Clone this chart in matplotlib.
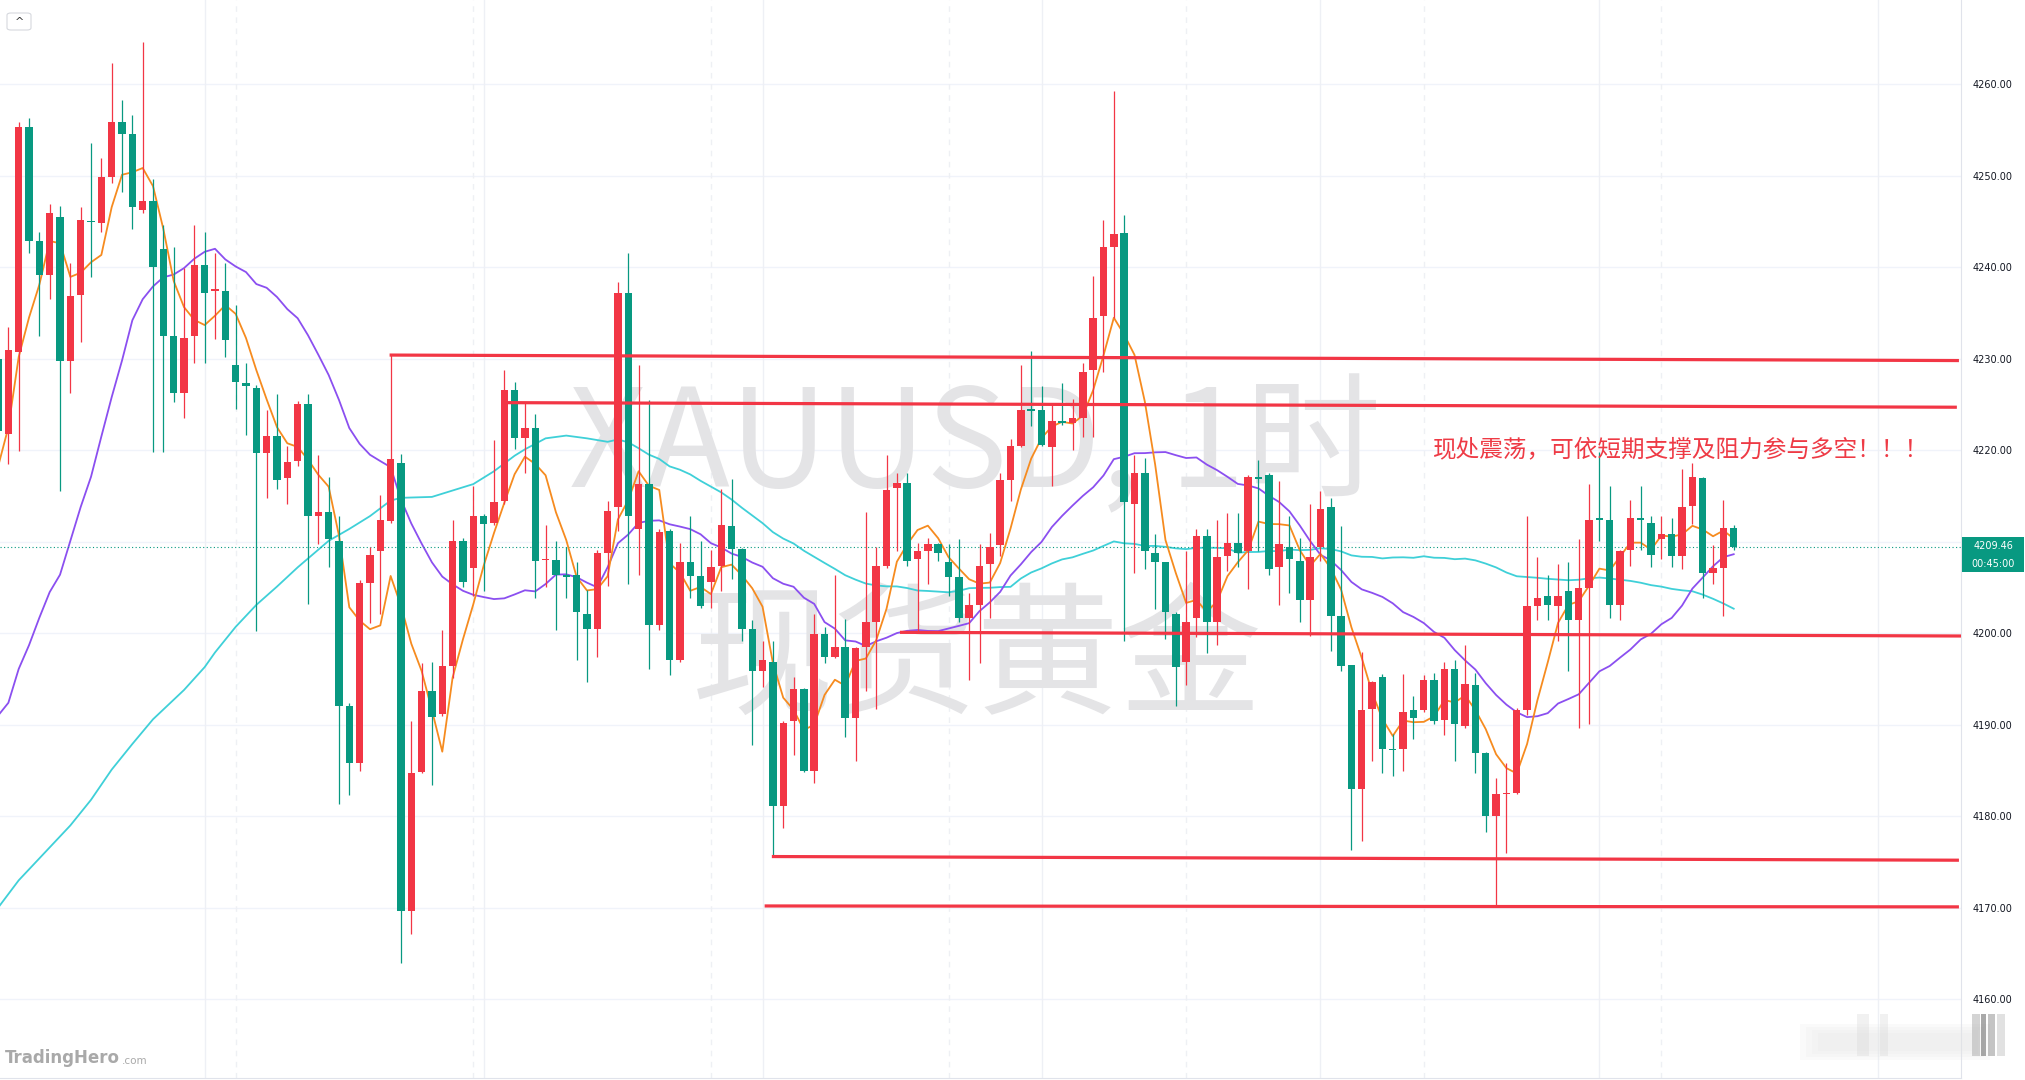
import numpy as np
import pandas as pd
import matplotlib
matplotlib.use("Agg")
import matplotlib.pyplot as plt
from matplotlib.patches import Rectangle, FancyBboxPatch

plt.rcParams['font.family'] = ['Noto Sans CJK SC', 'DejaVu Sans']

# XAUUSD 1h candles
opens = [4230.0, 4221.8, 4230.7, 4255.3, 4242.9, 4239.2, 4245.5, 4229.8, 4237.0, 4245.1,
         4244.8, 4249.9, 4255.9, 4254.6, 4246.2, 4247.2, 4242.0, 4232.5, 4226.3, 4232.5,
         4240.2, 4237.4, 4237.4, 4229.3, 4227.4, 4226.8, 4219.7, 4221.6, 4217.0, 4218.8,
         4225.0, 4212.8, 4213.3, 4210.1, 4192.0, 4185.8, 4205.5, 4209.0, 4212.3, 4218.6,
         4169.6, 4184.8, 4193.7, 4191.2, 4196.4, 4210.1, 4207.1, 4212.8, 4212.1, 4214.5,
         4226.6, 4221.3, 4222.4, 4208.0, 4208.0, 4206.4, 4206.4, 4202.1, 4200.5, 4208.8,
         4213.8, 4237.2, 4211.4, 4216.3, 4200.9, 4211.2, 4197.1, 4207.8, 4206.3, 4205.6,
         4207.3, 4211.7, 4209.2, 4200.5, 4195.9, 4196.9, 4181.1, 4190.4, 4193.9, 4185.0,
         4199.9, 4197.4, 4198.5, 4190.7, 4198.5, 4201.2, 4207.4, 4215.9, 4216.4, 4208.1,
         4209.0, 4209.8, 4207.8, 4206.1, 4201.7, 4203.1, 4207.6, 4209.6, 4216.8, 4220.5,
         4224.5, 4224.4, 4220.3, 4223.2, 4223.0, 4223.5, 4228.8, 4234.7, 4242.2, 4243.7,
         4214.1, 4217.5, 4208.8, 4207.8, 4202.1, 4196.9, 4201.7, 4210.6, 4201.2, 4208.4,
         4209.9, 4209.0, 4217.1, 4217.3, 4207.2, 4209.4, 4207.9, 4203.6, 4209.4, 4213.8,
         4201.9, 4196.5, 4183.0, 4191.7, 4195.2, 4187.4, 4187.4, 4191.6, 4191.6, 4194.9,
         4190.5, 4196.1, 4189.9, 4194.4, 4186.9, 4180.0, 4182.4, 4182.5, 4191.6, 4203.0,
         4204.1, 4203.0, 4204.6, 4201.4, 4205.0, 4212.6, 4212.4, 4203.1, 4209.1, 4212.5,
         4212.1, 4210.3, 4210.8, 4208.4, 4213.9, 4217.0, 4206.6, 4207.1, 4211.5]
highs = [4230.5, 4233.5, 4255.9, 4256.3, 4243.9, 4246.9, 4246.7, 4240.5, 4246.6, 4253.6,
         4251.9, 4262.3, 4258.3, 4256.6, 4264.6, 4249.6, 4244.6, 4242.2, 4239.9, 4244.6,
         4243.8, 4241.5, 4240.5, 4235.9, 4229.5, 4227.1, 4224.4, 4226.1, 4220.5, 4225.4,
         4226.1, 4219.5, 4217.1, 4212.8, 4192.4, 4205.8, 4209.4, 4215.1, 4230.5, 4219.6,
         4190.4, 4196.7, 4196.9, 4200.4, 4212.4, 4210.4, 4216.1, 4213.0, 4221.1, 4228.8,
         4227.5, 4225.2, 4224.0, 4211.8, 4210.1, 4209.4, 4207.8, 4204.7, 4209.1, 4214.4,
         4238.4, 4241.5, 4229.3, 4225.5, 4211.4, 4211.4, 4209.9, 4212.8, 4210.1, 4209.1,
         4215.8, 4216.9, 4209.3, 4201.4, 4199.1, 4199.1, 4190.4, 4195.2, 4194.0, 4202.1,
         4200.7, 4206.4, 4201.6, 4198.5, 4213.2, 4209.4, 4219.5, 4217.5, 4217.5, 4209.9,
         4210.4, 4209.9, 4209.8, 4210.3, 4204.4, 4209.8, 4211.0, 4217.5, 4221.2, 4229.3,
         4230.8, 4227.0, 4225.0, 4227.3, 4225.6, 4229.5, 4239.0, 4245.2, 4259.3, 4245.7,
         4219.5, 4219.1, 4210.8, 4207.8, 4202.3, 4209.0, 4211.4, 4211.4, 4212.4, 4213.1,
         4213.1, 4217.3, 4218.9, 4217.5, 4216.6, 4212.8, 4210.4, 4214.1, 4215.5, 4214.8,
         4211.7, 4196.5, 4197.9, 4194.8, 4195.6, 4189.0, 4195.6, 4193.1, 4195.4, 4195.7,
         4196.9, 4197.1, 4198.7, 4195.7, 4187.0, 4184.2, 4185.8, 4191.8, 4212.8, 4208.3,
         4206.4, 4207.6, 4207.8, 4210.3, 4216.3, 4219.8, 4216.1, 4209.1, 4214.6, 4216.1,
         4212.8, 4212.8, 4212.6, 4217.9, 4218.6, 4217.1, 4209.6, 4214.6, 4211.8]
lows = [4221.5, 4218.5, 4219.9, 4241.5, 4232.5, 4236.5, 4215.5, 4226.3, 4231.8, 4238.9,
        4243.8, 4249.2, 4248.2, 4244.2, 4245.9, 4219.8, 4219.8, 4225.3, 4223.5, 4229.5,
        4229.5, 4232.2, 4230.2, 4224.5, 4221.7, 4200.2, 4214.8, 4215.8, 4214.1, 4218.3,
        4203.2, 4209.8, 4207.2, 4181.3, 4182.3, 4185.0, 4201.1, 4202.1, 4212.1, 4164.0,
        4167.1, 4184.7, 4183.4, 4191.0, 4195.1, 4205.1, 4204.1, 4204.6, 4211.8, 4214.1,
        4220.1, 4217.5, 4203.8, 4205.1, 4200.4, 4203.8, 4197.1, 4194.7, 4197.4, 4205.2,
        4211.2, 4205.4, 4206.4, 4196.1, 4200.4, 4195.4, 4196.9, 4203.8, 4202.8, 4202.8,
        4204.6, 4205.9, 4199.1, 4187.8, 4194.1, 4175.7, 4178.7, 4186.7, 4184.8, 4183.6,
        4196.7, 4197.3, 4188.7, 4186.0, 4193.7, 4191.7, 4207.1, 4209.0, 4207.4, 4200.1,
        4205.4, 4207.9, 4204.1, 4201.2, 4194.9, 4196.7, 4201.7, 4208.4, 4214.5, 4220.3,
        4222.6, 4220.5, 4216.1, 4222.8, 4220.0, 4221.5, 4221.5, 4228.5, 4234.5, 4199.1,
        4206.6, 4207.0, 4202.6, 4199.4, 4192.1, 4194.3, 4199.6, 4197.8, 4198.7, 4206.8,
        4207.2, 4204.8, 4209.0, 4206.4, 4203.1, 4204.4, 4201.2, 4199.7, 4207.9, 4198.1,
        4195.9, 4176.3, 4177.3, 4186.0, 4184.7, 4184.4, 4185.0, 4188.4, 4191.4, 4190.1,
        4188.9, 4186.0, 4189.7, 4184.7, 4178.3, 4170.2, 4176.0, 4182.4, 4191.1, 4201.4,
        4201.4, 4199.1, 4195.9, 4189.7, 4190.1, 4210.1, 4201.7, 4201.4, 4207.4, 4209.1,
        4207.2, 4208.1, 4207.2, 4207.0, 4211.9, 4203.8, 4205.4, 4201.9, 4209.1]
closes = [4222.1, 4231.0, 4255.3, 4242.9, 4239.2, 4245.9, 4229.8, 4236.9, 4245.2, 4244.9,
          4249.9, 4255.9, 4254.6, 4246.6, 4247.2, 4240.0, 4232.5, 4226.2, 4232.3, 4240.2,
          4237.2, 4237.6, 4232.0, 4227.5, 4227.0, 4219.7, 4221.6, 4216.8, 4218.7, 4225.0,
          4212.8, 4213.3, 4210.3, 4192.0, 4185.8, 4205.5, 4208.6, 4212.4, 4219.0, 4169.6,
          4184.7, 4193.7, 4190.9, 4196.4, 4210.1, 4205.6, 4212.8, 4211.9, 4214.3, 4226.6,
          4221.3, 4222.4, 4207.9, 4208.1, 4206.4, 4206.1, 4202.3, 4200.5, 4208.8, 4213.4,
          4237.2, 4212.8, 4216.3, 4200.9, 4211.1, 4197.1, 4207.8, 4206.3, 4203.0, 4207.2,
          4211.8, 4209.2, 4200.5, 4195.9, 4197.1, 4181.1, 4190.2, 4193.9, 4184.9, 4199.9,
          4197.4, 4198.5, 4190.7, 4198.4, 4201.2, 4207.4, 4215.7, 4216.4, 4207.9, 4209.0,
          4209.8, 4208.8, 4206.1, 4201.7, 4203.1, 4207.4, 4209.4, 4216.8, 4220.5, 4224.4,
          4224.3, 4220.6, 4223.2, 4223.0, 4223.5, 4228.6, 4234.5, 4242.2, 4243.6, 4214.3,
          4217.5, 4209.0, 4207.8, 4202.3, 4196.3, 4201.2, 4210.6, 4201.2, 4208.3, 4209.9,
          4208.8, 4217.1, 4216.9, 4207.0, 4209.8, 4208.1, 4203.6, 4208.3, 4213.6, 4201.9,
          4196.4, 4183.0, 4191.6, 4194.7, 4187.4, 4187.2, 4191.4, 4190.7, 4194.9, 4190.4,
          4196.1, 4190.1, 4194.5, 4186.9, 4180.0, 4182.4, 4182.5, 4191.6, 4203.0, 4203.9,
          4203.1, 4204.1, 4201.4, 4205.0, 4212.4, 4212.4, 4203.1, 4209.0, 4212.6, 4212.4,
          4208.6, 4210.8, 4208.4, 4213.8, 4217.1, 4206.6, 4207.1, 4211.5, 4209.46]

# moving averages before enough bars are on screen
ma5_head = [4218.2, 4222.5, 4230.2, 4234.5]
ma20_head = [4191.0, 4192.4, 4196.1, 4198.7, 4201.7, 4204.5, 4206.4, 4210.1, 4213.8, 4217.1,
             4221.5, 4225.8, 4229.8, 4234.2, 4236.5, 4237.9, 4238.9, 4239.2, 4239.9]
ma60_head_idx = [0, 2, 5, 7, 9, 11, 13, 15, 18, 20, 21, 23, 25, 27, 29, 32, 34, 36, 38, 39,
                 42, 44, 46, 48, 50, 51, 53, 55, 57]
ma60_head = [4170.0, 4173.0, 4176.6, 4179.0, 4181.8, 4185.1, 4187.9, 4190.6, 4193.8, 4196.3,
             4197.9, 4200.7, 4203.1, 4205.1, 4207.2, 4210.1, 4211.4, 4212.8, 4214.5, 4214.8,
             4214.9, 4215.6, 4216.3, 4217.7, 4219.4, 4220.1, 4221.3, 4221.6, 4221.3]

# support / resistance lines: start bar, end bar, start price, end price
sr_x0 = [37.9, 49.1, 87.3, 74.9, 74.2]
sr_x1 = [189.8, 189.6, 190.0, 189.8, 189.8]
sr_y0 = [4230.4, 4225.2, 4200.1, 4175.6, 4170.2]
sr_y1 = [4229.8, 4224.7, 4199.7, 4175.2, 4170.1]

price_ticks = [4160, 4170, 4180, 4190, 4200, 4220, 4230, 4240, 4250, 4260]
grid_levels = [4160, 4170, 4180, 4190, 4200, 4210, 4220, 4230, 4240, 4250, 4260]
grid_bars = [20, 47, 74, 101, 128, 155, 182]
session_bars = [23, 46, 69, 92, 115, 138, 161]
last_price = 4209.46
countdown = "00:45:00"
note = "现处震荡，可依短期支撑及阻力参与多空！！！"

UP = '#f23645'
DOWN = '#089981'

o = np.array(opens)
h = np.array(highs)
l = np.array(lows)
c = np.array(closes)
x = np.arange(len(c))

cs = pd.Series(c)
ma5 = cs.rolling(5).mean().to_numpy()
ma5[:4] = ma5_head
ma20 = cs.rolling(20).mean().to_numpy()
ma20[:19] = ma20_head
ma60 = cs.rolling(60).mean().to_numpy()
ma60_x = np.concatenate([ma60_head_idx, x[59:]])
ma60_y = np.concatenate([ma60_head, ma60[59:]])

W, H = 2025, 1080
fig = plt.figure(figsize=(W / 100, H / 100), dpi=100)
fig.patch.set_facecolor('white')
ax = fig.add_axes([0, 2 / H, 1961 / W, 1078 / H])
ax.set_facecolor('white')

ax.set_xlim(0.19, 190.0)
ax.set_ylim(4151.4, 4269.2)

# grid
for g in grid_levels:
    ax.axhline(g, color='#f0f3fa', lw=1.0, zorder=0.1)
for g in grid_bars:
    ax.axvline(g, color='#eef0f5', lw=1.0, zorder=0.1)
for g in session_bars:
    ax.axvline(g, color='#eef0f4', lw=1.0, ls=(0, (4, 4)), zorder=0.1)

# watermark
ax.text(975 / W, 1 - 487 / H, "XAUUSD, 1时", transform=fig.transFigure, ha='center',
        va='baseline', fontsize=98, color='#e4e4e6', zorder=0.3)
ax.text(977 / W, 1 - 662 / H, "现货黄金", transform=fig.transFigure, ha='center',
        va='center', fontsize=103, color='#e4e4e6', zorder=0.3)

# moving averages
ax.plot(ma60_x, ma60_y, color='#3fd0d8', lw=1.3, zorder=2)
ax.plot(x, ma20, color='#8b4ff0', lw=1.3, zorder=2)
ax.plot(x, ma5, color='#f68b1f', lw=1.3, zorder=2.5)

# candles
up = c >= o
cols = np.where(up, UP, DOWN)
ax.vlines(x, l, h, colors=cols, lw=0.9, zorder=3)
body_lo = np.minimum(o, c)
body_h = np.maximum(np.abs(c - o), 0.15)
ax.bar(x, body_h, bottom=body_lo, width=0.72, color=cols, linewidth=0, zorder=3.2)

# current price
ax.axhline(last_price, color=DOWN, lw=0.8, ls=(0, (1, 2.2)), zorder=2)

# support / resistance
for x0, x1, y0, y1 in zip(sr_x0, sr_x1, sr_y0, sr_y1):
    ax.plot([x0, x1], [y0, y1], color=UP, lw=2.3, solid_capstyle='butt', zorder=4)

ax.text(138.9, 4220.1, note, fontsize=17, color='#ee3a45', ha='left', va='center', zorder=5)

# price axis
ax.yaxis.tick_right()
ax.set_yticks(price_ticks)
ax.set_yticklabels([f"{t:.2f}" for t in price_ticks], fontfamily='DejaVu Sans')
ax.tick_params(axis='y', length=0, pad=8, labelsize=7, labelcolor='#131722')
ax.set_xticks([])
for s in ['top', 'left']:
    ax.spines[s].set_visible(False)
ax.spines['right'].set_color('#e0e3eb')
ax.spines['bottom'].set_color('#e0e3eb')

# last price tag
fig.add_artist(Rectangle((1962 / W, 1 - 572 / H), 62 / W, 35 / H, transform=fig.transFigure,
                         facecolor=DOWN, edgecolor='none'))
fig.text(1993 / W, 1 - 546 / H, f"{last_price:.2f}", color='white', fontsize=7,
         ha='center', va='center', fontfamily='DejaVu Sans')
fig.text(1993 / W, 1 - 564 / H, countdown, color='white', fontsize=7,
         ha='center', va='center', fontfamily='DejaVu Sans')

# small collapse button top-left
fig.add_artist(FancyBboxPatch((7 / W, 1 - 30 / H), 24 / W, 17 / H, transform=fig.transFigure,
                              boxstyle='round,pad=0,rounding_size=0.002',
                              facecolor='white', edgecolor='#d6d8de', lw=0.8))
fig.text(19 / W, 1 - 22 / H, "^", fontsize=8, color='#333333', ha='center', va='center',
         fontfamily='DejaVu Sans')

# blurred patch bottom-right (soft edges from stacked translucent boxes)
for k in range(4):
    fig.add_artist(Rectangle(((1800 + 6 * k) / W, 1 - (1060 - 3 * k) / H), (190 - 12 * k) / W,
                             (36 - 6 * k) / H, transform=fig.transFigure,
                             facecolor='#e6e6e6', edgecolor='none', alpha=0.18))
for bx, bw, bc, a in [(1857, 12, '#d8d8d8', 0.35), (1880, 8, '#d8d8d8', 0.35),
                      (1972, 8, '#a0a0a0', 0.45), (1981, 5, '#707070', 0.6),
                      (1988, 7, '#8a8a8a', 0.5), (1997, 8, '#bdbdbd', 0.45)]:
    fig.add_artist(Rectangle((bx / W, 1 - 1056 / H), bw / W, 42 / H, transform=fig.transFigure,
                             facecolor=bc, edgecolor='none', alpha=a))

# logo
fig.text(5 / W, 1 - 1058 / H, "TradingHero", fontsize=12, fontweight='bold', color='#a9a9a9',
         ha='left', va='center', fontfamily='DejaVu Sans')
fig.text(122 / W, 1 - 1061 / H, ".com", fontsize=7.5, color='#a9a9a9', ha='left', va='center',
         fontfamily='DejaVu Sans')

fig.savefig("out.png", dpi=100, facecolor='white')
